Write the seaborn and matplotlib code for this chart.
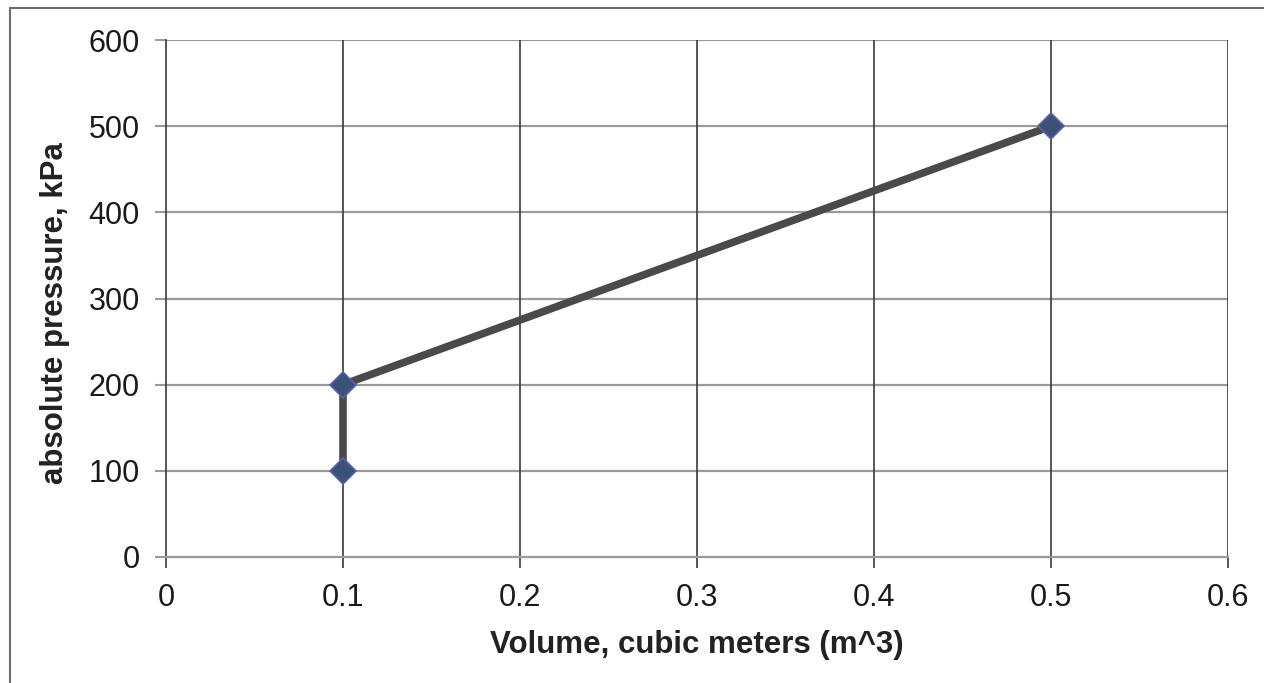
import matplotlib
matplotlib.use("Agg")
import matplotlib.pyplot as plt
import seaborn as sns
import pandas as pd
from matplotlib.patches import Rectangle

volume = [0.1, 0.1, 0.5]
pressure = [100, 200, 500]
x_ticks = [0, 0.1, 0.2, 0.3, 0.4, 0.5, 0.6]
x_tick_labels = ["0", "0.1", "0.2", "0.3", "0.4", "0.5", "0.6"]
y_ticks = [0, 100, 200, 300, 400, 500, 600]

sns.set_theme(style="white")
plt.rcParams['font.family'] = ['Liberation Sans', 'DejaVu Sans']

df = pd.DataFrame({"volume": volume, "pressure": pressure})

fig = plt.figure(figsize=(12.64, 6.83), dpi=100)
ax = fig.add_axes([166/1264, 1-557/683, (1228-166)/1264, (557-40)/683])

# figure border
fig.patches.append(Rectangle((10/1264, -0.1), 1.2, 1 - 8/683 + 0.1, transform=fig.transFigure,
                             fill=False, edgecolor="#6e6e6e", linewidth=1.5))

ax.set_xlim(0, 0.6)
ax.set_ylim(0, 600)
ax.set_xticks(x_ticks)
ax.set_xticklabels(x_tick_labels)
ax.set_yticks(y_ticks)

for y in y_ticks[1:]:
    ax.axhline(y, color="#9a9a9a", linewidth=1.6, zorder=1)
for x in x_ticks[1:]:
    ax.axvline(x, color="#3a3a3a", linewidth=1.2, zorder=1)

sns.lineplot(data=df, x="volume", y="pressure", sort=False, ax=ax, color="#4a4a4a",
             linewidth=5.5, marker="D", markersize=13, markerfacecolor="#3b5278",
             markeredgecolor="#5a62a8", markeredgewidth=1.2, zorder=3, estimator=None)

for side in ["top", "right"]:
    ax.spines[side].set_visible(False)
ax.spines["left"].set_color("#3a3a3a")
ax.spines["left"].set_linewidth(1.2)
ax.spines["bottom"].set_color("#9a9a9a")
ax.spines["bottom"].set_linewidth(1.6)

ax.tick_params(axis="y", direction="out", length=8, width=1.5, color="#9a9a9a",
               labelsize=22, pad=11, left=True, labelcolor="#1a1a1a")
ax.tick_params(axis="x", direction="out", length=8, width=1.2, color="#3a3a3a",
               labelsize=22, pad=11, bottom=True, labelcolor="#1a1a1a")

ax.set_xlabel("Volume, cubic meters (m^3)", fontsize=22.5, fontweight="bold", color="#222222", labelpad=12)
ax.set_ylabel("absolute pressure, kPa", fontsize=22.5, fontweight="bold", color="#222222", labelpad=13)
ax.yaxis.label.set_y(0.472)

fig.savefig("out.png", dpi=100)
